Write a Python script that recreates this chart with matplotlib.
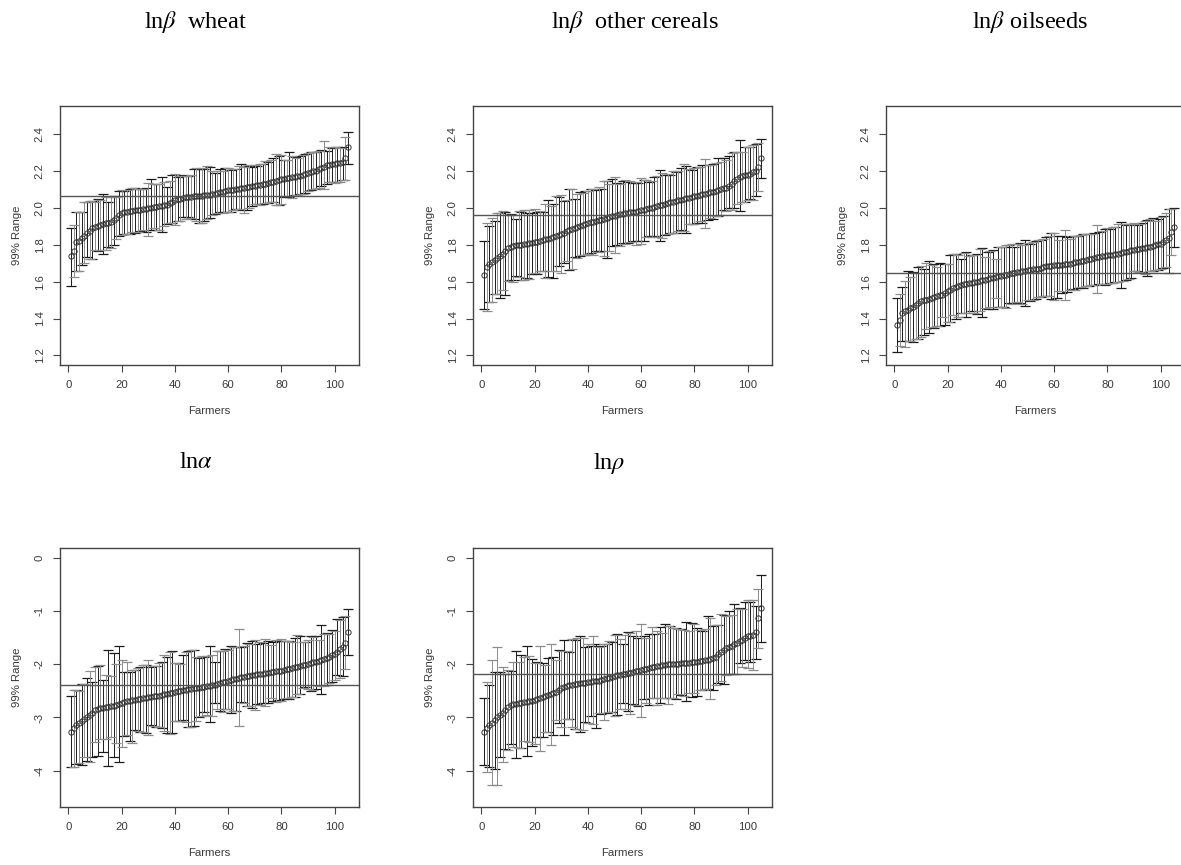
"""
plot.py
99% ranges of farmer-level estimates (sorted), five panels.
"""

import numpy as np
import matplotlib
matplotlib.use("Agg")
import matplotlib.pyplot as plt

plt.rcParams["font.family"] = ["Liberation Sans", "DejaVu Sans"]
plt.rcParams["mathtext.fontset"] = "stix"

# ── data ─────────────────────────────────────────────────────────────────────
WHEAT_EST = [
    1.737, 1.766, 1.815, 1.820, 1.835, 1.850, 1.865, 1.875, 1.888, 1.898,
    1.903, 1.908, 1.912, 1.916, 1.920, 1.925, 1.932, 1.945, 1.960, 1.970,
    1.975, 1.978, 1.981, 1.983, 1.986, 1.988, 1.990, 1.992, 1.994, 1.997,
    2.000, 2.003, 2.006, 2.008, 2.011, 2.014, 2.018, 2.024, 2.032, 2.042,
    2.047, 2.050, 2.053, 2.056, 2.058, 2.060, 2.062, 2.063, 2.065, 2.066,
    2.068, 2.070, 2.072, 2.074, 2.077, 2.080, 2.084, 2.088, 2.092, 2.095,
    2.097, 2.099, 2.101, 2.103, 2.105, 2.108, 2.111, 2.114, 2.117, 2.120,
    2.123, 2.125, 2.128, 2.131, 2.134, 2.138, 2.142, 2.146, 2.151, 2.156,
    2.158, 2.160, 2.162, 2.165, 2.167, 2.170, 2.174, 2.178, 2.183, 2.189,
    2.193, 2.197, 2.202, 2.208, 2.214, 2.222, 2.230, 2.234, 2.236, 2.239,
    2.241, 2.243, 2.246, 2.270, 2.330,
]
WHEAT_LO = [
    1.574, 1.625, 1.660, 1.660, 1.690, 1.700, 1.735, 1.720, 1.720, 1.770,
    1.765, 1.770, 1.750, 1.770, 1.790, 1.780, 1.800, 1.830, 1.850, 1.855,
    1.860, 1.860, 1.860, 1.870, 1.865, 1.870, 1.875, 1.880, 1.870, 1.850,
    1.880, 1.890, 1.880, 1.880, 1.870, 1.900, 1.910, 1.920, 1.920, 1.905,
    1.930, 1.930, 1.950, 1.940, 1.950, 1.945, 1.940, 1.930, 1.920, 1.920,
    1.930, 1.940, 1.945, 1.960, 1.965, 1.970, 1.975, 1.970, 1.975, 1.980,
    1.980, 1.990, 1.995, 1.995, 1.990, 1.970, 1.990, 2.000, 2.010, 2.020,
    2.020, 2.015, 2.020, 2.025, 2.025, 2.030, 2.030, 2.015, 2.015, 2.020,
    2.060, 2.065, 2.060, 2.055, 2.070, 2.070, 2.075, 2.075, 2.080, 2.090,
    2.095, 2.100, 2.100, 2.110, 2.120, 2.100, 2.130, 2.140, 2.140, 2.135,
    2.140, 2.140, 2.150, 2.150, 2.240,
]
WHEAT_HI = [
    1.890, 1.905, 1.980, 1.975, 1.980, 2.030, 2.030, 2.035, 2.035, 2.030,
    2.050, 2.045, 2.075, 2.060, 2.030, 2.060, 2.065, 2.060, 2.090, 2.095,
    2.090, 2.095, 2.100, 2.110, 2.110, 2.100, 2.100, 2.100, 2.110, 2.135,
    2.155, 2.130, 2.130, 2.130, 2.165, 2.140, 2.115, 2.145, 2.180, 2.185,
    2.165, 2.170, 2.180, 2.175, 2.175, 2.180, 2.210, 2.215, 2.210, 2.215,
    2.210, 2.225, 2.220, 2.200, 2.190, 2.200, 2.210, 2.200, 2.215, 2.215,
    2.205, 2.210, 2.210, 2.225, 2.240, 2.220, 2.225, 2.230, 2.220, 2.230,
    2.225, 2.235, 2.240, 2.255, 2.250, 2.260, 2.270, 2.290, 2.280, 2.285,
    2.260, 2.260, 2.305, 2.280, 2.275, 2.270, 2.280, 2.285, 2.290, 2.295,
    2.300, 2.300, 2.305, 2.310, 2.315, 2.360, 2.310, 2.330, 2.325, 2.330,
    2.330, 2.325, 2.330, 2.385, 2.410,
]

CEREALS_EST = [
    1.638, 1.679, 1.697, 1.708, 1.719, 1.728, 1.740, 1.752, 1.764, 1.782,
    1.790, 1.793, 1.796, 1.798, 1.800, 1.803, 1.805, 1.808, 1.810, 1.813,
    1.817, 1.821, 1.825, 1.829, 1.833, 1.838, 1.843, 1.849, 1.855, 1.860,
    1.866, 1.872, 1.878, 1.884, 1.890, 1.896, 1.901, 1.907, 1.913, 1.918,
    1.922, 1.925, 1.929, 1.932, 1.936, 1.940, 1.945, 1.949, 1.954, 1.958,
    1.961, 1.964, 1.967, 1.970, 1.972, 1.975, 1.978, 1.980, 1.983, 1.986,
    1.990, 1.993, 1.997, 2.000, 2.004, 2.008, 2.013, 2.017, 2.022, 2.026,
    2.030, 2.033, 2.037, 2.040, 2.044, 2.048, 2.051, 2.055, 2.058, 2.062,
    2.066, 2.069, 2.073, 2.076, 2.080, 2.084, 2.088, 2.092, 2.096, 2.100,
    2.105, 2.110, 2.116, 2.130, 2.143, 2.155, 2.167, 2.171, 2.176, 2.180,
    2.186, 2.192, 2.198, 2.220, 2.270,
]
CEREALS_LO = [
    1.450, 1.440, 1.490, 1.490, 1.535, 1.535, 1.510, 1.555, 1.530, 1.605,
    1.610, 1.600, 1.630, 1.625, 1.610, 1.610, 1.620, 1.615, 1.640, 1.645,
    1.640, 1.660, 1.655, 1.620, 1.625, 1.655, 1.620, 1.655, 1.685, 1.645,
    1.700, 1.710, 1.665, 1.670, 1.735, 1.730, 1.740, 1.745, 1.745, 1.750,
    1.755, 1.745, 1.765, 1.760, 1.765, 1.740, 1.730, 1.765, 1.795, 1.755,
    1.800, 1.795, 1.810, 1.805, 1.810, 1.815, 1.820, 1.800, 1.820, 1.805,
    1.820, 1.840, 1.845, 1.840, 1.845, 1.840, 1.820, 1.835, 1.855, 1.860,
    1.865, 1.865, 1.865, 1.875, 1.880, 1.875, 1.865, 1.910, 1.915, 1.910,
    1.920, 1.930, 1.920, 1.890, 1.935, 1.945, 1.940, 1.955, 1.955, 1.960,
    1.990, 1.985, 2.000, 1.990, 2.000, 2.020, 1.985, 2.030, 2.030, 2.045,
    2.050, 2.040, 2.065, 2.090, 2.160,
]
CEREALS_HI = [
    1.822, 1.920, 1.900, 1.945, 1.930, 1.970, 1.970, 1.985, 1.980, 1.960,
    1.965, 1.960, 1.940, 1.985, 1.980, 1.990, 1.970, 1.990, 1.970, 1.995,
    1.980, 1.985, 1.975, 2.020, 2.045, 2.010, 2.020, 2.065, 2.060, 2.070,
    2.035, 2.045, 2.100, 2.100, 2.050, 2.075, 2.085, 2.080, 2.090, 2.090,
    2.100, 2.100, 2.095, 2.115, 2.100, 2.145, 2.145, 2.130, 2.155, 2.165,
    2.135, 2.130, 2.145, 2.150, 2.140, 2.145, 2.135, 2.140, 2.135, 2.160,
    2.150, 2.150, 2.140, 2.145, 2.165, 2.170, 2.205, 2.190, 2.180, 2.185,
    2.180, 2.200, 2.195, 2.200, 2.215, 2.235, 2.225, 2.210, 2.205, 2.215,
    2.220, 2.220, 2.230, 2.265, 2.230, 2.230, 2.240, 2.245, 2.270, 2.250,
    2.270, 2.260, 2.280, 2.295, 2.300, 2.300, 2.365, 2.305, 2.330, 2.330,
    2.330, 2.340, 2.345, 2.350, 2.375,
]

OILSEEDS_EST = [
    1.367, 1.394, 1.430, 1.440, 1.448, 1.455, 1.462, 1.472, 1.483, 1.493,
    1.498, 1.503, 1.508, 1.512, 1.517, 1.521, 1.525, 1.530, 1.538, 1.547,
    1.556, 1.565, 1.571, 1.577, 1.583, 1.586, 1.588, 1.591, 1.593, 1.596,
    1.600, 1.603, 1.607, 1.610, 1.614, 1.618, 1.621, 1.625, 1.628, 1.632,
    1.635, 1.638, 1.642, 1.645, 1.648, 1.651, 1.653, 1.656, 1.658, 1.661,
    1.664, 1.666, 1.669, 1.671, 1.674, 1.678, 1.682, 1.686, 1.687, 1.688,
    1.689, 1.690, 1.691, 1.693, 1.694, 1.697, 1.700, 1.704, 1.707, 1.710,
    1.714, 1.717, 1.721, 1.724, 1.728, 1.731, 1.734, 1.737, 1.739, 1.742,
    1.745, 1.747, 1.750, 1.752, 1.755, 1.759, 1.762, 1.766, 1.769, 1.773,
    1.776, 1.778, 1.781, 1.783, 1.786, 1.790, 1.794, 1.798, 1.802, 1.806,
    1.815, 1.824, 1.837, 1.867, 1.896,
]
OILSEEDS_LO = [
    1.220, 1.250, 1.280, 1.245, 1.280, 1.280, 1.270, 1.290, 1.290, 1.300,
    1.310, 1.345, 1.320, 1.355, 1.350, 1.360, 1.360, 1.410, 1.365, 1.380,
    1.380, 1.420, 1.400, 1.410, 1.430, 1.430, 1.410, 1.430, 1.440, 1.430,
    1.425, 1.440, 1.410, 1.455, 1.450, 1.460, 1.450, 1.510, 1.465, 1.460,
    1.460, 1.455, 1.485, 1.480, 1.485, 1.490, 1.485, 1.480, 1.470, 1.500,
    1.495, 1.500, 1.505, 1.515, 1.515, 1.520, 1.520, 1.520, 1.505, 1.500,
    1.510, 1.550, 1.540, 1.500, 1.545, 1.555, 1.560, 1.555, 1.565, 1.570,
    1.565, 1.575, 1.575, 1.580, 1.580, 1.540, 1.585, 1.585, 1.580, 1.585,
    1.590, 1.595, 1.600, 1.600, 1.565, 1.605, 1.610, 1.615, 1.620, 1.655,
    1.655, 1.650, 1.650, 1.640, 1.630, 1.660, 1.655, 1.665, 1.665, 1.670,
    1.675, 1.680, 1.645, 1.745, 1.790,
]
OILSEEDS_HI = [
    1.510, 1.535, 1.570, 1.605, 1.660, 1.625, 1.650, 1.645, 1.680, 1.685,
    1.670, 1.700, 1.710, 1.690, 1.695, 1.680, 1.700, 1.645, 1.695, 1.695,
    1.745, 1.750, 1.750, 1.745, 1.720, 1.755, 1.760, 1.740, 1.745, 1.745,
    1.750, 1.775, 1.780, 1.735, 1.760, 1.765, 1.770, 1.725, 1.785, 1.790,
    1.785, 1.800, 1.800, 1.805, 1.790, 1.805, 1.810, 1.800, 1.825, 1.810,
    1.805, 1.815, 1.820, 1.825, 1.825, 1.830, 1.840, 1.850, 1.865, 1.865,
    1.850, 1.825, 1.850, 1.880, 1.840, 1.830, 1.845, 1.845, 1.850, 1.855,
    1.860, 1.860, 1.860, 1.860, 1.865, 1.905, 1.870, 1.875, 1.885, 1.890,
    1.885, 1.895, 1.895, 1.910, 1.925, 1.910, 1.905, 1.910, 1.910, 1.920,
    1.905, 1.910, 1.920, 1.930, 1.935, 1.940, 1.945, 1.930, 1.940, 1.950,
    1.955, 1.970, 1.995, 1.995, 2.000,
]

ALPHA_EST = [
    -3.270, -3.205, -3.140, -3.100, -3.060, -3.020, -2.990, -2.955, -2.910, -2.860,
    -2.845, -2.830, -2.820, -2.810, -2.800, -2.790, -2.780, -2.770, -2.745, -2.720,
    -2.710, -2.700, -2.690, -2.680, -2.670, -2.660, -2.650, -2.640, -2.630, -2.620,
    -2.612, -2.604, -2.596, -2.588, -2.580, -2.568, -2.556, -2.544, -2.532, -2.520,
    -2.510, -2.500, -2.490, -2.480, -2.470, -2.463, -2.456, -2.449, -2.442, -2.435,
    -2.426, -2.417, -2.408, -2.399, -2.390, -2.374, -2.358, -2.342, -2.326, -2.310,
    -2.297, -2.284, -2.271, -2.258, -2.245, -2.236, -2.227, -2.218, -2.209, -2.200,
    -2.192, -2.184, -2.176, -2.168, -2.160, -2.152, -2.144, -2.136, -2.128, -2.120,
    -2.108, -2.096, -2.084, -2.072, -2.060, -2.045, -2.030, -2.015, -2.008, -2.000,
    -1.984, -1.968, -1.952, -1.936, -1.920, -1.900, -1.880, -1.860, -1.835, -1.810,
    -1.765, -1.720, -1.670, -1.600, -1.390,
]
ALPHA_LO = [
    -3.93, -3.93, -3.87, -3.86, -3.89, -3.75, -3.82, -3.83, -3.75, -3.46,
    -3.73, -3.40, -3.65, -3.40, -3.91, -3.36, -3.75, -3.48, -3.83, -3.56,
    -3.35, -3.33, -3.44, -3.47, -3.23, -3.25, -3.28, -3.27, -3.30, -3.32,
    -3.14, -3.16, -3.17, -3.18, -3.19, -3.25, -3.29, -3.31, -3.29, -3.07,
    -3.06, -3.07, -3.05, -3.09, -3.18, -3.18, -3.16, -3.07, -3.00, -2.97,
    -2.90, -2.95, -3.09, -2.98, -2.72, -2.85, -2.87, -2.89, -2.84, -2.84,
    -2.91, -2.87, -2.87, -3.16, -2.71, -2.72, -2.78, -2.78, -2.82, -2.86,
    -2.75, -2.76, -2.73, -2.78, -2.73, -2.63, -2.69, -2.71, -2.67, -2.70,
    -2.65, -2.64, -2.65, -2.62, -2.61, -2.56, -2.56, -2.44, -2.43, -2.47,
    -2.50, -2.48, -2.47, -2.41, -2.56, -2.41, -2.40, -2.36, -2.34, -2.30,
    -2.21, -2.26, -2.23, -2.09, -1.82,
]
ALPHA_HI = [
    -2.60, -2.48, -2.48, -2.50, -2.38, -2.38, -2.25, -2.12, -2.33, -2.05,
    -2.03, -2.02, -2.29, -2.21, -1.73, -2.22, -1.79, -2.00, -1.66, -1.93,
    -2.15, -1.96, -2.14, -2.10, -2.10, -2.08, -2.05, -2.01, -2.02, -1.93,
    -2.05, -2.04, -2.03, -1.98, -1.96, -1.83, -1.86, -1.78, -1.76, -1.98,
    -1.98, -1.99, -1.83, -1.78, -1.75, -1.74, -1.74, -1.86, -1.88, -1.85,
    -1.86, -1.84, -1.66, -1.83, -1.96, -1.75, -1.76, -1.75, -1.72, -1.73,
    -1.65, -1.68, -1.68, -1.34, -1.68, -1.65, -1.61, -1.63, -1.56, -1.55,
    -1.62, -1.58, -1.61, -1.52, -1.56, -1.64, -1.58, -1.54, -1.57, -1.53,
    -1.57, -1.57, -1.56, -1.58, -1.51, -1.46, -1.47, -1.58, -1.58, -1.54,
    -1.48, -1.49, -1.48, -1.54, -1.26, -1.44, -1.41, -1.43, -1.35, -1.37,
    -1.15, -1.17, -1.12, -1.10, -0.97,
]

RHO_EST = [
    -3.270, -3.200, -3.140, -3.100, -3.050, -3.000, -2.955, -2.920, -2.860, -2.800,
    -2.775, -2.750, -2.740, -2.730, -2.720, -2.713, -2.707, -2.700, -2.685, -2.670,
    -2.655, -2.640, -2.620, -2.600, -2.580, -2.560, -2.540, -2.520, -2.485, -2.450,
    -2.430, -2.410, -2.397, -2.383, -2.370, -2.364, -2.358, -2.352, -2.346, -2.340,
    -2.332, -2.324, -2.316, -2.308, -2.300, -2.284, -2.268, -2.252, -2.236, -2.220,
    -2.210, -2.200, -2.190, -2.180, -2.170, -2.158, -2.146, -2.134, -2.122, -2.110,
    -2.098, -2.086, -2.074, -2.062, -2.050, -2.040, -2.030, -2.020, -2.010, -2.000,
    -1.997, -1.994, -1.991, -1.988, -1.985, -1.980, -1.975, -1.970, -1.965, -1.960,
    -1.952, -1.944, -1.936, -1.928, -1.920, -1.900, -1.880, -1.860, -1.810, -1.765,
    -1.730, -1.700, -1.675, -1.652, -1.630, -1.600, -1.572, -1.545, -1.510, -1.480,
    -1.462, -1.445, -1.390, -1.140, -0.950,
]
RHO_LO = [
    -3.90, -4.02, -3.93, -4.26, -3.97, -4.27, -3.74, -3.83, -3.60, -3.61,
    -3.50, -3.55, -3.76, -3.58, -3.58, -3.45, -3.72, -3.46, -3.54, -3.50,
    -3.37, -3.62, -3.37, -3.28, -3.27, -3.52, -3.32, -3.05, -3.11, -3.18,
    -3.33, -3.02, -3.03, -3.18, -3.22, -3.21, -3.28, -3.24, -3.08, -3.10,
    -2.97, -3.12, -3.19, -2.92, -2.94, -3.04, -2.92, -2.89, -2.89, -2.97,
    -2.95, -2.85, -2.73, -2.85, -2.87, -2.93, -2.74, -2.76, -2.78, -2.99,
    -2.65, -2.73, -2.77, -2.63, -2.64, -2.76, -2.73, -2.63, -2.64, -2.74,
    -2.64, -2.63, -2.66, -2.56, -2.58, -2.59, -2.70, -2.55, -2.62, -2.55,
    -2.60, -2.48, -2.48, -2.47, -2.47, -2.65, -2.49, -2.40, -2.35, -2.31,
    -2.37, -2.20, -2.19, -2.18, -2.18, -2.18, -1.98, -2.06, -1.92, -2.08,
    -1.95, -2.10, -1.90, -1.70, -1.59,
]
RHO_HI = [
    -2.63, -2.33, -2.40, -1.92, -2.15, -1.67, -2.15, -2.05, -2.18, -2.10,
    -2.13, -1.96, -1.76, -1.96, -1.82, -1.86, -1.66, -1.85, -1.90, -1.98,
    -1.96, -1.66, -1.98, -2.02, -1.88, -1.62, -1.87, -1.92, -1.73, -1.76,
    -1.55, -1.76, -1.77, -1.52, -1.55, -1.51, -1.47, -1.50, -1.68, -1.62,
    -1.65, -1.47, -1.62, -1.68, -1.66, -1.62, -1.62, -1.56, -1.58, -1.46,
    -1.43, -1.52, -1.62, -1.45, -1.40, -1.42, -1.48, -1.38, -1.50, -1.25,
    -1.48, -1.51, -1.44, -1.30, -1.43, -1.38, -1.31, -1.41, -1.24, -1.29,
    -1.29, -1.32, -1.32, -1.34, -1.34, -1.36, -1.21, -1.38, -1.22, -1.25,
    -1.33, -1.36, -1.38, -1.34, -1.10, -1.14, -1.28, -1.27, -1.27, -1.06,
    -1.07, -1.09, -1.00, -1.08, -0.88, -0.97, -0.95, -0.97, -0.84, -0.80,
    -0.83, -0.80, -0.90, -0.59, -0.33,
]

# reference (population mean) lines
REF_LINES = [2.066, 1.959, 1.648, -2.396, -2.184]

TITLES = [r"ln$\beta$  wheat", r"ln$\beta$  other cereals", r"ln$\beta$ oilseeds",
          r"ln$\alpha$", r"ln$\rho$"]

BETA_TICKS  = [1.2, 1.4, 1.6, 1.8, 2.0, 2.2, 2.4]
LOG_TICKS   = [0, -1, -2, -3, -4]
X_TICKS     = [0, 20, 40, 60, 80, 100]

TEXT_COL = "#3a3a3a"


def draw_panel(ax, est, lo, hi, ref, ylim, yticks, ytick_fmt):
    est = np.asarray(est)
    lo = np.asarray(lo)
    hi = np.asarray(hi)
    x = np.arange(1, len(est) + 1)
    yerr = np.vstack([est - lo, hi - est])

    # alternate dark / grey bars like the antialiased original
    for sel, col in ((x % 2 == 1, "#1a1a1a"), (x % 2 == 0, "#8c8c8c")):
        ax.errorbar(x[sel], est[sel], yerr=yerr[:, sel], fmt="none",
                    ecolor=col, elinewidth=0.7, capsize=3.8, capthick=0.9)
    ax.plot(x, est, "o", mfc="none", mec="#333333", ms=3.8, mew=0.7, zorder=3)
    ax.axhline(ref, color="#555555", linewidth=1.0, zorder=4)

    n = len(est)
    pad = 0.04 * (n - 1)
    ax.set_xlim(1 - pad, n + pad)
    ax.set_ylim(*ylim)
    ax.set_xticks(X_TICKS)
    ax.set_yticks(yticks)
    ax.set_yticklabels([ytick_fmt(v) for v in yticks], rotation=90, va="center")
    ax.tick_params(direction="out", length=5, width=0.8, colors="#444444",
                   labelcolor=TEXT_COL, labelsize=8.2, pad=6)
    for s in ax.spines.values():
        s.set_color("#444444")
        s.set_linewidth(1.0)
    ax.set_xlabel("Farmers", fontsize=8.2, color=TEXT_COL, labelpad=11)
    ax.set_ylabel("99% Range", fontsize=8.2, color=TEXT_COL, labelpad=9)


fig = plt.figure(figsize=(11.81, 8.65), dpi=100)
W, H = 1181, 865

# axes boxes in pixels: (left, top, right, bottom)
boxes = [(60, 106, 359, 365), (473, 106, 772, 365), (886, 106, 1185, 365),
         (60, 548, 359, 807), (473, 548, 772, 807)]
series = [(WHEAT_EST, WHEAT_LO, WHEAT_HI), (CEREALS_EST, CEREALS_LO, CEREALS_HI),
          (OILSEEDS_EST, OILSEEDS_LO, OILSEEDS_HI), (ALPHA_EST, ALPHA_LO, ALPHA_HI),
          (RHO_EST, RHO_LO, RHO_HI)]

for i, ((l, t, r, b), (est, lo, hi)) in enumerate(zip(boxes, series)):
    ax = fig.add_axes([l / W, 1 - b / H, (r - l) / W, (b - t) / H])
    if i < 3:
        draw_panel(ax, est, lo, hi, REF_LINES[i], (1.148, 2.552), BETA_TICKS,
                   lambda v: f"{v:.1f}")
    else:
        draw_panel(ax, est, lo, hi, REF_LINES[i], (-4.68, 0.18), LOG_TICKS,
                   lambda v: f"{v:d}")

# panel titles (serif, as in the source document)
title_pos = [(196, 22), (635, 22), (1030, 22), (196, 463), (609, 463)]
for (px, py), txt in zip(title_pos, TITLES):
    fig.text(px / W, 1 - py / H, txt, ha="center", va="center", fontsize=17.5,
             family=["Liberation Serif", "DejaVu Serif"], color="black")

fig.savefig("out.png", dpi=100)
